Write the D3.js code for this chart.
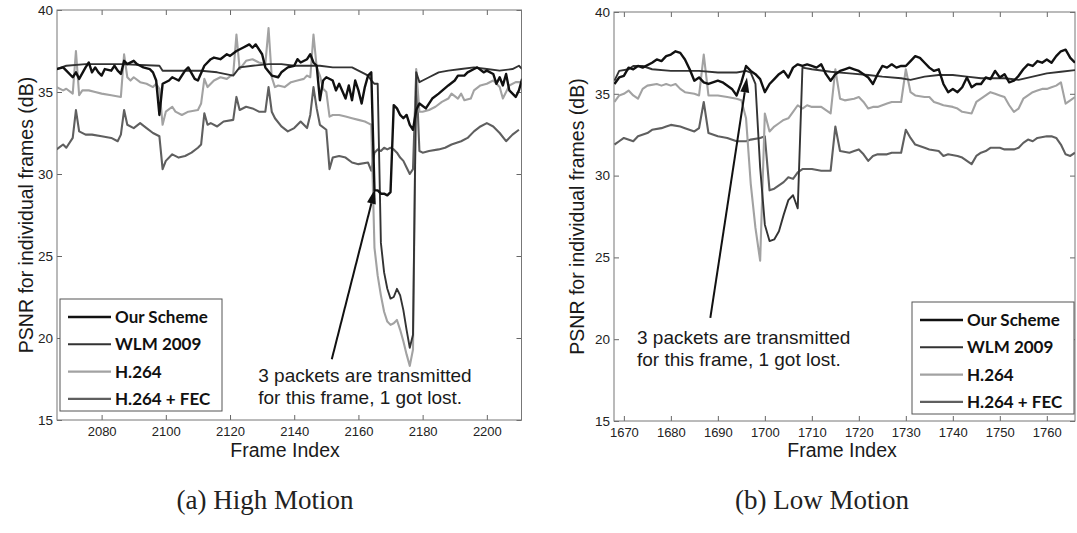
<!DOCTYPE html>
<html>
<head>
<meta charset="utf-8">
<script src="https://cdn.jsdelivr.net/npm/d3@7"></script>
<style>
  body { margin: 0; background: #fff; }
  svg { display: block; }
  .tick text { font-family: "Liberation Sans", Arial, sans-serif; fill: #222; }
  .tick line { stroke: #666; }
  .axisLabel, .note { font-family: "Liberation Sans", Arial, sans-serif; fill: #1a1a1a; }
  .legendText { font-family: Lato, "Open Sans", sans-serif; font-weight: 700; fill: #111; }
  .caption { font-family: "Liberation Serif", "DejaVu Serif", serif; fill: #222; }
</style>
</head>
<body>
<svg id="chart" width="1077" height="533"></svg>
<script>
const seriesNames = ['Our Scheme', 'WLM 2009', 'H.264', 'H.264 + FEC'];
const yTicks = [15, 20, 25, 30, 35, 40];
const highTicks = [2080, 2100, 2120, 2140, 2160, 2180, 2200];
const lowTicks = [1670, 1680, 1690, 1700, 1710, 1720, 1730, 1740, 1750, 1760];
const captions = ['(a) High Motion', '(b) Low Motion'];
const noteLines = ['3 packets are transmitted', 'for this frame, 1 got lost.'];

// (a) high motion, [frame, PSNR dB]
const highOurScheme = [[2066,36.4],[2068,36.5],[2069,36.3],[2071,35.9],[2072,36.2],[2073,35.8],[2075,36.5],[2076,36.8],[2077,36.2],[2078,36.5],[2079,36.2],[2080,36.0],[2081,36.4],[2083,36.3],[2084,36.6],[2085,36.3],[2086,36.1],[2087,36.9],[2088,36.7],[2090,36.9],[2091,36.7],[2092,36.6],[2093,36.5],[2095,36.4],[2096,36.2],[2097,35.7],[2098,33.6],[2099,35.5],[2101,35.7],[2102,35.9],[2104,35.7],[2106,36.3],[2107,36.5],[2109,35.8],[2110,35.7],[2112,36.6],[2114,37.0],[2115,37.1],[2117,37.0],[2119,37.3],[2120,37.2],[2122,37.5],[2124,37.7],[2126,37.9],[2127,37.7],[2128,37.9],[2130,37.3],[2131,36.5],[2133,36.0],[2135,35.9],[2136,36.2],[2138,36.5],[2140,36.6],[2141,37.0],[2142,36.8],[2144,37.0],[2145,37.3],[2146,36.8],[2147,36.6],[2148,34.5],[2149,35.7],[2150,35.9],[2152,35.7],[2153,35.1],[2154,35.5],[2156,34.6],[2157,35.4],[2158,34.5],[2159,35.7],[2160,35.1],[2161,34.3],[2162,35.3],[2163,36.0],[2164,36.2],[2165,29.0],[2166,29.0],[2167,28.8],[2168,28.8],[2169,28.7],[2170,28.9],[2171,34.2],[2172,34.0],[2173,33.6],[2174,33.4],[2175,33.6],[2176,33.0],[2177,32.7],[2178,33.9],[2179,34.3],[2181,34.0],[2183,34.6],[2185,34.9],[2188,35.4],[2190,35.7],[2191,36.0],[2193,36.0],[2194,36.2],[2196,36.4],[2197,36.5],[2199,36.2],[2200,36.3],[2202,36.1],[2203,35.5],[2204,35.9],[2205,35.4],[2206,36.1],[2207,35.1],[2209,34.7],[2210,35.1],[2211,35.8]];
const highWlm = [[2066,36.4],[2069,36.6],[2075,36.7],[2086,36.7],[2098,36.6],[2099,36.3],[2111,36.3],[2116,36.2],[2121,36.0],[2123,36.5],[2127,36.6],[2132,36.7],[2136,36.7],[2140,36.6],[2148,36.6],[2152,36.5],[2158,36.5],[2160,36.3],[2162,36.1],[2163,36.0],[2164,35.7],[2165,35.5],[2166,35.5],[2167,25.8],[2168,24.0],[2169,23.0],[2170,22.4],[2171,22.5],[2172,23.0],[2173,22.6],[2174,21.7],[2175,20.5],[2176,19.4],[2177,20.2],[2178,36.2],[2179,35.6],[2180,35.7],[2182,35.9],[2185,36.2],[2188,36.3],[2192,36.4],[2196,36.5],[2200,36.4],[2204,36.3],[2208,36.4],[2210,36.6],[2211,36.4]];
const highH264 = [[2066,35.3],[2068,35.1],[2069,35.2],[2071,34.9],[2072,37.5],[2073,34.8],[2074,35.1],[2076,35.1],[2078,35.0],[2080,34.9],[2083,34.8],[2086,34.7],[2087,37.3],[2088,35.9],[2089,35.7],[2090,35.9],[2092,35.6],[2094,35.5],[2096,35.3],[2097,35.5],[2098,35.2],[2099,33.0],[2100,33.8],[2102,34.1],[2103,33.8],[2105,33.6],[2107,33.8],[2110,33.9],[2111,34.3],[2112,35.8],[2113,35.3],[2115,35.7],[2117,35.9],[2119,35.8],[2121,36.1],[2122,38.5],[2123,36.4],[2125,36.9],[2127,37.0],[2129,36.8],[2131,36.7],[2132,38.9],[2133,35.9],[2134,35.3],[2135,35.4],[2137,35.3],[2139,35.6],[2141,35.7],[2143,35.8],[2144,36.0],[2145,35.9],[2146,38.5],[2147,36.5],[2148,36.0],[2149,35.2],[2150,35.0],[2151,33.5],[2152,33.6],[2154,33.6],[2156,33.5],[2158,33.4],[2160,33.3],[2162,33.2],[2163,33.1],[2164,33.0],[2165,25.5],[2166,23.8],[2167,22.6],[2168,21.6],[2169,21.0],[2170,20.8],[2171,20.9],[2172,21.1],[2173,20.5],[2174,19.8],[2175,19.0],[2176,18.3],[2177,19.3],[2178,36.4],[2179,33.8],[2180,33.8],[2182,33.9],[2184,34.1],[2186,34.4],[2188,34.6],[2189,34.9],[2191,34.6],[2192,34.9],[2193,34.5],[2195,34.6],[2196,35.1],[2198,35.4],[2200,35.5],[2202,35.7],[2204,35.3],[2205,34.6],[2206,35.0],[2207,35.4],[2209,35.6],[2211,35.6]];
const highFec = [[2066,31.5],[2068,31.8],[2069,31.6],[2071,32.2],[2072,33.9],[2073,32.6],[2075,32.4],[2077,32.4],[2080,32.3],[2083,32.2],[2085,32.0],[2086,32.4],[2087,33.9],[2088,33.0],[2090,32.8],[2092,33.1],[2094,32.8],[2096,32.5],[2098,32.3],[2099,30.3],[2100,30.8],[2102,31.2],[2104,31.0],[2106,31.1],[2108,31.3],[2110,31.6],[2111,31.8],[2112,33.7],[2113,33.0],[2114,33.1],[2116,32.9],[2118,33.2],[2121,33.3],[2122,34.7],[2123,33.9],[2125,34.1],[2127,34.0],[2129,33.8],[2131,33.8],[2132,35.3],[2133,33.8],[2134,33.4],[2136,32.9],[2138,32.6],[2140,32.8],[2142,33.2],[2144,32.8],[2145,33.6],[2146,35.3],[2147,34.0],[2148,33.0],[2150,32.7],[2151,30.3],[2152,31.0],[2154,31.1],[2156,31.0],[2158,30.7],[2160,30.6],[2163,30.7],[2164,30.2],[2165,31.3],[2166,31.5],[2167,31.4],[2168,31.6],[2169,31.5],[2170,31.6],[2171,31.5],[2172,31.3],[2173,31.0],[2174,30.8],[2175,30.4],[2176,30.0],[2177,30.3],[2178,36.2],[2179,31.4],[2180,31.3],[2182,31.4],[2185,31.5],[2187,31.6],[2189,31.8],[2192,32.0],[2194,32.2],[2196,32.6],[2198,32.9],[2200,33.1],[2202,32.9],[2204,32.5],[2206,32.0],[2208,32.4],[2210,32.7]];

// (b) low motion, [frame, PSNR dB]
const lowOurScheme = [[1668,35.6],[1669,36.0],[1670,36.1],[1671,36.6],[1672,36.5],[1673,36.7],[1674,36.6],[1676,36.9],[1677,37.1],[1678,37.0],[1679,37.3],[1680,37.4],[1681,37.6],[1682,37.5],[1683,37.1],[1684,36.5],[1685,35.8],[1686,36.0],[1687,35.7],[1688,35.6],[1690,35.8],[1691,35.7],[1693,35.3],[1694,34.9],[1695,35.7],[1696,36.7],[1697,36.4],[1698,36.2],[1699,35.9],[1700,35.1],[1701,35.6],[1702,35.9],[1703,36.2],[1704,36.4],[1705,36.0],[1706,36.6],[1707,36.8],[1708,36.7],[1709,36.8],[1710,36.7],[1711,36.6],[1712,36.8],[1713,36.2],[1714,35.8],[1715,36.2],[1716,36.4],[1717,36.5],[1718,36.6],[1719,36.5],[1720,36.4],[1722,36.0],[1723,35.6],[1724,36.2],[1725,36.7],[1726,36.6],[1727,36.8],[1728,36.6],[1729,36.7],[1730,36.7],[1731,37.0],[1732,37.3],[1733,37.2],[1734,36.9],[1735,36.6],[1736,36.4],[1737,36.5],[1738,35.6],[1739,35.1],[1740,35.3],[1741,35.1],[1742,35.4],[1743,36.0],[1744,35.4],[1745,35.6],[1746,35.6],[1747,36.0],[1748,35.9],[1749,36.4],[1750,36.0],[1751,36.2],[1752,35.7],[1753,35.8],[1754,36.1],[1755,36.5],[1756,36.8],[1757,36.7],[1758,37.0],[1759,36.9],[1760,37.1],[1761,36.9],[1762,37.3],[1763,37.6],[1764,37.7],[1765,37.2],[1766,36.9]];
const lowWlm = [[1668,35.8],[1669,36.4],[1671,36.5],[1672,36.7],[1674,36.7],[1676,36.5],[1680,36.4],[1686,36.4],[1690,36.3],[1694,36.3],[1696,36.4],[1697,36.3],[1698,35.6],[1699,30.5],[1700,27.0],[1701,26.0],[1702,26.1],[1703,26.6],[1704,27.6],[1705,28.5],[1706,28.8],[1707,28.0],[1708,36.6],[1710,36.5],[1714,36.35],[1718,36.25],[1722,36.15],[1725,36.05],[1729,35.95],[1731,35.85],[1734,36.05],[1737,36.15],[1740,36.15],[1743,36.05],[1746,35.95],[1751,35.95],[1754,35.85],[1757,36.05],[1760,36.25],[1763,36.35],[1766,36.45]];
const lowH264 = [[1668,34.5],[1669,34.9],[1670,35.0],[1671,35.2],[1672,34.9],[1673,34.7],[1674,35.3],[1675,35.5],[1677,35.6],[1678,35.5],[1679,35.6],[1680,35.5],[1681,35.6],[1682,35.3],[1683,35.1],[1685,35.0],[1686,34.9],[1687,37.4],[1688,34.9],[1690,34.9],[1692,34.8],[1694,34.7],[1695,34.6],[1696,33.5],[1697,29.5],[1698,26.8],[1699,24.8],[1700,33.8],[1701,32.7],[1702,33.0],[1703,33.2],[1704,33.4],[1705,33.5],[1706,33.9],[1707,34.3],[1708,34.1],[1709,34.3],[1710,34.2],[1712,34.2],[1713,34.0],[1714,33.8],[1715,36.5],[1716,34.7],[1717,34.6],[1719,34.7],[1720,34.8],[1721,34.5],[1722,34.1],[1723,34.2],[1724,34.2],[1726,34.4],[1727,34.5],[1729,34.5],[1730,36.5],[1731,35.1],[1732,34.9],[1734,34.8],[1735,34.8],[1736,34.5],[1737,34.4],[1738,34.3],[1740,34.2],[1741,34.1],[1742,33.9],[1744,33.8],[1745,34.5],[1746,34.7],[1747,34.9],[1748,35.1],[1749,35.0],[1750,34.9],[1751,34.8],[1752,34.3],[1753,33.9],[1754,34.1],[1755,34.7],[1757,35.1],[1758,35.2],[1759,35.3],[1760,35.3],[1761,35.4],[1762,35.5],[1763,35.7],[1764,34.4],[1765,34.6],[1766,34.8]];
const lowFec = [[1668,31.9],[1669,32.1],[1670,32.3],[1672,32.1],[1673,32.4],[1675,32.6],[1676,32.8],[1678,32.9],[1679,33.0],[1680,33.1],[1682,33.0],[1683,32.9],[1685,32.7],[1686,32.9],[1687,34.5],[1688,32.6],[1690,32.4],[1692,32.3],[1694,32.1],[1696,32.1],[1697,32.2],[1699,32.3],[1700,32.4],[1701,29.1],[1702,29.2],[1703,29.4],[1704,29.6],[1705,29.9],[1706,29.8],[1707,30.2],[1708,30.4],[1710,30.4],[1712,30.3],[1714,30.3],[1715,33.0],[1716,31.5],[1718,31.4],[1719,31.5],[1720,31.6],[1721,31.3],[1722,30.9],[1723,31.2],[1724,31.3],[1726,31.3],[1727,31.4],[1729,31.4],[1730,32.8],[1731,32.3],[1732,31.9],[1734,31.7],[1735,31.6],[1737,31.5],[1738,31.2],[1739,31.3],[1741,31.2],[1742,31.1],[1744,30.7],[1745,31.2],[1746,31.4],[1747,31.5],[1748,31.7],[1750,31.7],[1751,31.6],[1753,31.6],[1754,31.7],[1755,32.0],[1756,32.2],[1757,32.1],[1758,32.3],[1760,32.4],[1761,32.4],[1762,32.3],[1763,31.9],[1764,31.3],[1765,31.2],[1766,31.4]];

// arrow tail / tip and note anchor, in [frame, dB]
const highArrow = [[2151.7, 18.7], [2165.2, 29.1]];
const lowArrow = [[1688.4, 21.3], [1696.2, 36.0]];
const highNoteAt = [2128.8, 17.3];
const lowNoteAt = [1672.8, 19.7];

const lineColors = ['#111', '#333', '#a2a2a2', '#5f5f5f'];
const lineWidths = [2.4, 1.9, 2.1, 2.1];

const panels = [
    {name: 'high', series: [highOurScheme, highWlm, highH264, highFec], xDomain: [2066.1, 2210.8], xTicks: highTicks,
     left: 57, right: 521.5, top: 10, bottom: 420, legend: [60, 299], yLabelX: 26, xLabelX: 285, caption: captions[0], captionX: 265,
     arrow: highArrow, noteAt: highNoteAt},
    {name: 'low', series: [lowOurScheme, lowWlm, lowH264, lowFec], xDomain: [1667.9, 1766], xTicks: lowTicks,
     left: 614, right: 1075, top: 12, bottom: 421, legend: [912, 302], yLabelX: 577, xLabelX: 842, caption: captions[1], captionX: 822,
     arrow: lowArrow, noteAt: lowNoteAt}
];

const svg = d3.select('#chart');

function drawPanel (p) {
    const g = svg.append('g').attr('class', p.name);
    const x = d3.scaleLinear().domain(p.xDomain).range([p.left, p.right]);
    const y = d3.scaleLinear().domain([15, 40]).range([p.bottom, p.top]);

    // AXES (ticks point inward, on all four sides)
    const bottomAxis = g.append('g')
        .attr('transform', `translate(0,${p.bottom})`)
        .call(d3.axisBottom(x).tickValues(p.xTicks).tickSizeInner(-5).tickSizeOuter(0).tickPadding(7).tickFormat(d3.format('d')));
    bottomAxis.selectAll('text').style('font-size', '13px');
    g.append('g')
        .attr('transform', `translate(0,${p.top})`)
        .call(d3.axisTop(x).tickValues(p.xTicks).tickSizeInner(-5).tickSizeOuter(0).tickFormat(''));
    const leftAxis = g.append('g')
        .attr('transform', `translate(${p.left},0)`)
        .call(d3.axisLeft(y).tickValues(yTicks).tickSizeInner(-5).tickSizeOuter(0).tickPadding(4));
    leftAxis.selectAll('text').style('font-size', '13.5px');
    g.append('g')
        .attr('transform', `translate(${p.right},0)`)
        .call(d3.axisRight(y).tickValues(yTicks).tickSizeInner(-5).tickSizeOuter(0).tickFormat(''));
    g.selectAll('.domain').remove();

    g.append('rect')
        .attr('x', p.left).attr('y', p.top)
        .attr('width', p.right - p.left).attr('height', p.bottom - p.top)
        .attr('fill', 'none').attr('stroke', '#777').attr('stroke-width', 1);

    // LINES
    const clipId = `clip-${p.name}`;
    g.append('clipPath').attr('id', clipId)
        .append('rect')
        .attr('x', p.left).attr('y', p.top)
        .attr('width', p.right - p.left).attr('height', p.bottom - p.top);

    const line = d3.line().x(d => x(d[0])).y(d => y(d[1]));
    const order = [3, 2, 1, 0];
    g.append('g').attr('clip-path', `url(#${clipId})`)
        .selectAll('path')
        .data(order)
        .enter()
        .append('path')
        .attr('d', i => line(p.series[i]))
        .attr('fill', 'none')
        .attr('stroke', i => lineColors[i])
        .attr('stroke-width', i => lineWidths[i])
        .attr('stroke-linejoin', 'round');

    // ANNOTATION
    const [tail, tip] = p.arrow;
    const x1 = x(tail[0]), y1 = y(tail[1]), x2 = x(tip[0]), y2 = y(tip[1]);
    const ang = Math.atan2(y2 - y1, x2 - x1);
    const headLen = 15, headHalf = 4.5;
    const bx = x2 - headLen * Math.cos(ang), by = y2 - headLen * Math.sin(ang);
    g.append('line')
        .attr('x1', x1).attr('y1', y1).attr('x2', bx).attr('y2', by)
        .attr('stroke', '#111').attr('stroke-width', 2);
    g.append('path')
        .attr('d', `M${x2},${y2}L${bx + headHalf * Math.sin(ang)},${by - headHalf * Math.cos(ang)}L${bx - headHalf * Math.sin(ang)},${by + headHalf * Math.cos(ang)}Z`)
        .attr('fill', '#111');

    g.append('text')
        .attr('class', 'note')
        .attr('x', x(p.noteAt[0]))
        .attr('y', y(p.noteAt[1]))
        .style('font-size', '19px')
        .selectAll('tspan')
        .data(noteLines)
        .enter()
        .append('tspan')
        .attr('x', x(p.noteAt[0]))
        .attr('dy', (d, i) => i === 0 ? 0 : 22)
        .text(d => d);

    // LEGEND
    const lg = g.append('g').attr('transform', `translate(${p.legend[0]},${p.legend[1]})`);
    lg.append('rect')
        .attr('width', 162).attr('height', 112)
        .attr('fill', '#fff').attr('stroke', '#555').attr('stroke-width', 1);
    const rows = lg.selectAll('.row')
        .data(seriesNames)
        .enter()
        .append('g')
        .attr('class', 'row')
        .attr('transform', (d, i) => `translate(0,${18 + i * 27.3})`);
    rows.append('line')
        .attr('x1', 8).attr('x2', 51).attr('y1', 0).attr('y2', 0)
        .attr('stroke', (d, i) => lineColors[i])
        .attr('stroke-width', (d, i) => lineWidths[i]);
    rows.append('text')
        .attr('class', 'legendText')
        .attr('x', 55).attr('dy', '0.36em')
        .style('font-size', '17px')
        .text(d => d);

    // LABELS
    g.append('text')
        .attr('class', 'axisLabel')
        .attr('transform', `translate(${p.yLabelX},${(p.top + p.bottom) / 2}) rotate(-90)`)
        .attr('text-anchor', 'middle')
        .attr('dy', '0.36em')
        .style('font-size', '19.5px')
        .text('PSNR for individual frames (dB)');
    g.append('text')
        .attr('class', 'axisLabel')
        .attr('x', p.xLabelX).attr('y', 457)
        .attr('text-anchor', 'middle')
        .style('font-size', '19.5px')
        .text('Frame Index');
    g.append('text')
        .attr('class', 'caption')
        .attr('x', p.captionX).attr('y', 509)
        .attr('text-anchor', 'middle')
        .style('font-size', '27px')
        .text(p.caption);
}

panels.forEach(drawPanel);
</script>
</body>
</html>
